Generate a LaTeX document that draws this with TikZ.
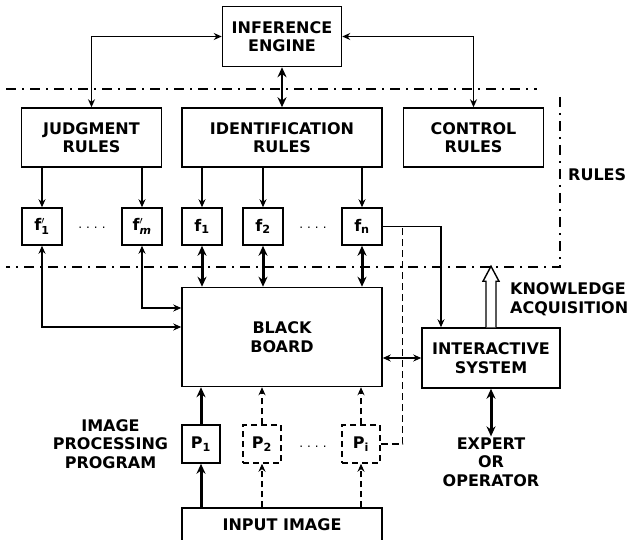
\documentclass[tikz,border=0pt]{standalone}
\usepackage{fontspec}
\setsansfont{DejaVu Sans}
\usetikzlibrary{arrows.meta, positioning}
\newcommand{\fpr}[1]{f$^{\prime}_{\mbox{\fontsize{11}{12}\selectfont #1}}$}
\tikzset{
    font=\sffamily\bfseries\fontsize{16}{18.5}\selectfont,
    >={Stealth[length=8pt,width=7pt]},
    % Boxes
    box/.style={rectangle, draw, line width=1.5pt, align=center, inner sep=2pt},
    bigbox/.style={box, minimum width=200pt, minimum height=59pt},
    rulebox/.style={box, minimum width=140pt, minimum height=59pt},
    smallbox/.style={box, minimum width=40pt, minimum height=37pt},
    progbox/.style={box, minimum width=38pt, minimum height=38pt},
    dashbox/.style={progbox, dash pattern=on 6pt off 4pt},
    lbl/.style={align=center, inner sep=2pt},
    dotsep/.style={font=\sffamily\fontsize{12}{14}\selectfont, inner sep=0pt},
    % Lines
    flow/.style={->, line width=1.2pt},
    twoway/.style={<->, line width=1.2pt},
    heavy/.style={<->, line width=3pt, >={Stealth[length=10pt,width=9pt]}},
    heavyup/.style={->, line width=3pt, >={Stealth[length=10pt,width=9pt]}},
    dflow/.style={->, line width=1.1pt, dash pattern=on 6pt off 4pt},
    dline/.style={line width=1.1pt, dash pattern=on 7pt off 4pt},
    region/.style={line width=1.1pt, dash pattern=on 10pt off 6pt on 2pt off 6pt},
    kaarrow/.style={line width=1.4pt, fill=white, line join=miter}
}

\begin{document}
\begin{tikzpicture}[x=1pt, y=-1pt]
\useasboundingbox (0,0) rectangle (637,540);

% rules region
\draw[region] (6,89) -- (537,89);
\draw[region] (560,97) -- (560,267) -- (6,267);

\node[bigbox] (ident) at (282,137.5) {IDENTIFICATION\\RULES};
\node[box, minimum width=119pt, minimum height=60pt, above=40pt of ident] (infer) {INFERENCE\\ENGINE};
\node[rulebox, left=19pt of ident] (judg) {JUDGMENT\\RULES};
\node[rulebox, right=20pt of ident] (ctrl) {CONTROL\\RULES};
\node[lbl, anchor=west] (rules) at (566,175) {RULES};

% knowledge sources
\node[smallbox] (fa) at (42,226.5) {\fpr{1}};
\node[smallbox] (fm) at (142,226.5) {\fpr{\itshape m}};
\node[smallbox] (f1) at (202,226.5) {f\textsubscript{1}};
\node[smallbox] (f2) at (263,226.5) {f\textsubscript{2}};
\node[smallbox] (fn) at (362,226.5) {f\textsubscript{n}};
\node[dotsep] (dota) at (92,228) {.\,\,.\,\,.\,\,.};
\node[dotsep] (dotb) at (313,228) {.\,\,.\,\,.\,\,.};

\node[bigbox, minimum height=99pt, below=119pt of ident] (bb) {BLACK\\BOARD};
\node[box, minimum width=138pt, minimum height=60pt] (isys) at (491,358) {INTERACTIVE\\SYSTEM};

% image processing programs
\node[progbox] (p1) at (201,444) {P\textsubscript{1}};
\node[dashbox] (p2) at (262,444) {P\textsubscript{2}};
\node[dashbox] (pi) at (361,444) {P\textsubscript{i}};
\node[dotsep] (dotc) at (313,447) {.\,\,.\,\,.\,\,.};
\node[bigbox, minimum height=34pt, below=120pt of bb] (input) {INPUT IMAGE};

\node[lbl, left=11pt of p1] (ipp) {IMAGE\\PROCESSING\\PROGRAM};
\node[lbl, inner sep=1pt] (expert) at (491,462) {EXPERT\\OR\\OPERATOR};
\node[lbl, anchor=west, align=left] (know) at (508,299) {KNOWLEDGE\\ACQUISITION};

% engine to rules
\draw[twoway] (infer.west) -| (judg.north);
\draw[twoway] (infer.east) -| (ctrl.north);
\draw[heavy, line width=2pt] (infer.south) -- (infer.south |- ident.north);

% rules to sources
\draw[flow] (fa.north |- judg.south) -- (fa.north);
\draw[flow] (fm.north |- judg.south) -- (fm.north);
\draw[flow] (f1.north |- ident.south) -- (f1.north);
\draw[flow, line width=1.8pt] (f2.north |- ident.south) -- (f2.north);
\draw[flow] (fn.north |- ident.south) -- (fn.north);

% sources to blackboard
\draw[twoway] (fa.south) |- ([yshift=10pt]bb.west);
\draw[twoway] (fm.south) |- ([yshift=29pt]bb.west);
\draw[heavy] (f1.south) -- (f1.south |- bb.north);
\draw[heavy] (f2.south) -- (f2.south |- bb.north);
\draw[heavy] (fn.south) -- (fn.south |- bb.north);

% interactive system
\draw[flow] (fn.east) -| ([xshift=-50pt]isys.north);
\draw[dline] (pi.east) -| ([xshift=20pt]fn.east);
\draw[twoway, line width=1.8pt] (bb.east |- isys.west) -- (isys.west);
\draw[kaarrow] ([xshift=-5pt]isys.north) -- ([xshift=-5pt,yshift=46pt]isys.north)
    -- ([xshift=-8pt,yshift=46pt]isys.north) -- ([yshift=61pt]isys.north)
    -- ([xshift=8pt,yshift=46pt]isys.north) -- ([xshift=5pt,yshift=46pt]isys.north)
    -- ([xshift=5pt]isys.north);
\draw[heavy] (isys.south) -- (expert.north);

% programs
\draw[heavyup] (p1.north) -- (p1.north |- bb.south);
\draw[dflow] (p2.north) -- (p2.north |- bb.south);
\draw[dflow] (pi.north) -- (pi.north |- bb.south);
\draw[heavyup] (p1.south |- input.north) -- (p1.south);
\draw[dflow] (p2.south |- input.north) -- (p2.south);
\draw[dflow] (pi.south |- input.north) -- (pi.south);

\end{tikzpicture}
\end{document}
